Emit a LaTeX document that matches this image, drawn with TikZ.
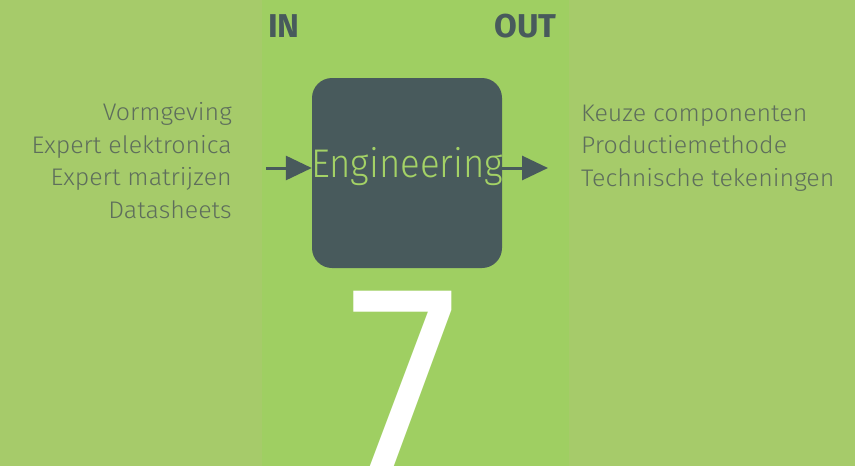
\documentclass[tikz,border=0pt]{standalone}
\usepackage{fontspec}
\setmainfont{Fira Sans Light}
\newfontfamily\listfont[FakeStretch=1.04]{Fira Sans Light}
\newfontfamily\boldcond{Fira Sans Bold}
\newfontfamily\sevenfont{Fira Sans}
\usetikzlibrary{arrows.meta}
\definecolor{sidegreen}{HTML}{A6CB6A}
\definecolor{midgreen}{HTML}{9FCF62}
\definecolor{boxdark}{HTML}{485A5C}
\definecolor{listgray}{HTML}{5E6E5C}
\definecolor{textgreen}{HTML}{A4D266}
\tikzset{
  listtext/.style={text=listgray, font=\listfont\fontsize{24}{32.5}\selectfont, inner sep=0pt},
  headtext/.style={text=boxdark, font=\boldcond\fontsize{33}{33}\selectfont, inner sep=0pt},
  flow/.style={draw=boxdark, line width=3pt, -{Triangle[length=26pt,width=24pt]}},
}
\begin{document}
\begin{tikzpicture}[x=1pt,y=-1pt]
\useasboundingbox (0,0) rectangle (855,466);
\fill[sidegreen] (0,0) rectangle (855,466);
\fill[midgreen] (262,0) rectangle (569,466);
\node[text=white, font=\sevenfont\fontsize{280}{280}\selectfont, inner sep=0pt, anchor=base, xscale=0.9] (seven) at (403,478) {7};
\node[fill=boxdark, rounded corners=20pt, minimum width=190pt, minimum height=190pt, inner sep=0pt] (box) at (407,173) {};
\node[text=textgreen, font=\fontsize{40}{40}\selectfont, inner sep=0pt, anchor=base, xscale=0.915] (eng) at (407,177) {Engineering};
\coordinate (inL) at (266,168);
\coordinate (outR) at (548,168);
\draw[flow] (inL) -- (box.west |- inL);
\draw[flow] (box.east |- outR) -- (outR);
\node[headtext, anchor=base west] (in) at (268,37) {IN};
\node[headtext, anchor=base east] (out) at (557,37) {OUT};
\node[listtext, anchor=base east, align=right] (inputs) at (232,218) {Vormgeving\\Expert elektronica\\Expert matrijzen\\Datasheets};
\node[listtext, anchor=base west, align=left] (outputs) at (581,186) {Keuze componenten\\Productiemethode\\Technische tekeningen};
\end{tikzpicture}
\end{document}
